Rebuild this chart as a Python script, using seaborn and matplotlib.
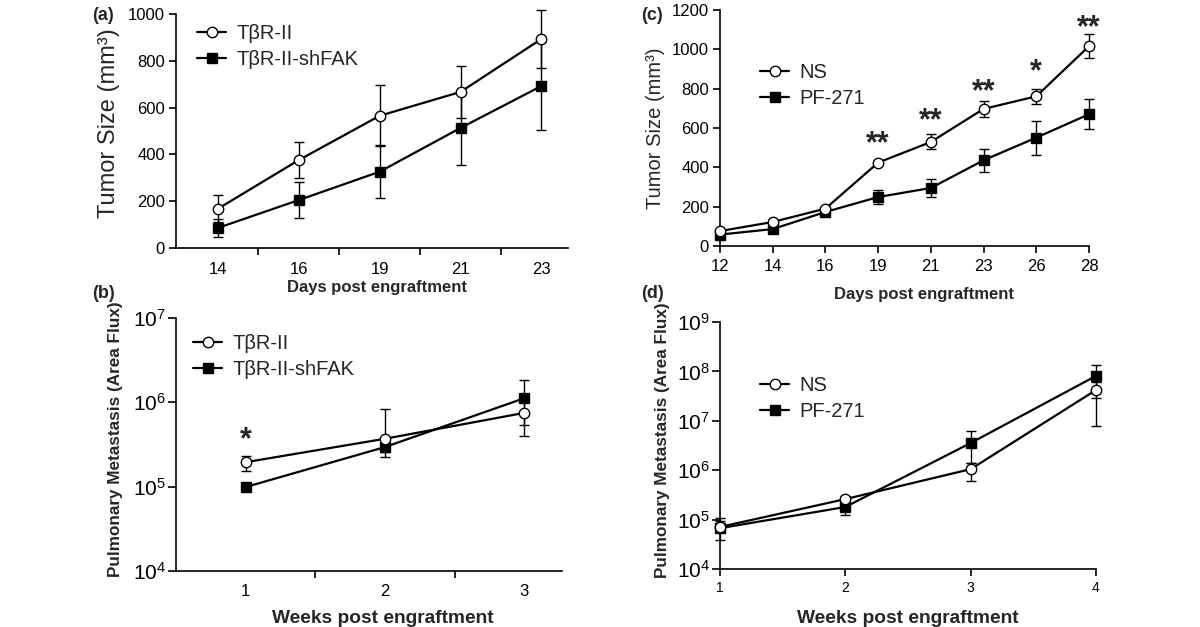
import numpy as np
import matplotlib
matplotlib.use("Agg")
import matplotlib.pyplot as plt
import seaborn as sns
from matplotlib.ticker import FixedLocator, NullLocator

# panel (a): tumor size, TbR-II vs TbR-II-shFAK
days_a = ["14", "16", "19", "21", "23"]
tbr_a = [168, 376, 565, 667, 893]
tbr_a_err = [58, 76, 131, 111, 122]
shfak_a = [86, 205, 326, 513, 692]
shfak_a_err = [39, 75, 114, 158, 188]

# panel (b): pulmonary metastasis, log scale (value, lower, upper)
weeks_b = ["1", "2", "3"]
tbr_b = [1.95e5, 3.7e5, 7.5e5]
tbr_b_lo = [1.55e5, 2.6e5, 4.0e5]
tbr_b_hi = [2.3e5, 8.3e5, 1.0e6]
shfak_b = [9.9e4, 2.95e5, 1.12e6]
shfak_b_lo = [9.0e4, 2.25e5, 5.4e5]
shfak_b_hi = [1.08e5, 3.4e5, 1.85e6]
stars_b = ["*", "", ""]
star_y_b = [3.6e5, 0, 0]

# panel (c): tumor size, NS vs PF-271
days_c = ["12", "14", "16", "19", "21", "23", "26", "28"]
ns_c = [76, 122, 190, 424, 529, 697, 761, 1016]
ns_c_err = [12, 10, 10, 12, 38, 40, 37, 60]
pf_c = [58, 86, 173, 249, 295, 436, 551, 670]
pf_c_err = [10, 10, 10, 36, 47, 58, 87, 75]
stars_c = ["", "", "", "**", "**", "**", "*", "**"]
star_y_c = [0, 0, 0, 515, 632, 784, 886, 1106]

# panel (d): pulmonary metastasis, log scale
weeks_d = [1, 2, 3, 4]
ns_d = [7.1e4, 2.6e5, 1.05e6, 4.2e7]
ns_d_lo = [5.5e4, 2.2e5, 6.0e5, 7.8e6]
ns_d_hi = [9.4e4, 3.0e5, 1.4e6, 6.0e7]
pf_d = [6.7e4, 1.8e5, 3.55e6, 8.1e7]
pf_d_lo = [3.8e4, 1.23e5, 1.4e6, 2.9e7]
pf_d_hi = [1.08e5, 2.3e5, 6.1e6, 1.35e8]

sns.set_style("ticks")
plt.rcParams['font.family'] = ['Liberation Sans', 'DejaVu Sans']
plt.rcParams['mathtext.fontset'] = 'custom'
plt.rcParams['mathtext.rm'] = 'Liberation Sans'
plt.rcParams['mathtext.it'] = 'Liberation Sans:italic'
plt.rcParams['mathtext.bf'] = 'Liberation Sans:bold'


def draw(ax, x, y, lo, hi, hollow, label):
    y = np.array(y, dtype=float)
    yerr = [y - np.array(lo), np.array(hi) - y]
    eb = ax.errorbar(x, y, yerr=yerr, fmt="none", ecolor="black",
                     elinewidth=1.0, capsize=3.5, capthick=1.0, zorder=2)
    for part in eb.lines:
        for art in (part if isinstance(part, tuple) else [part]):
            if art is not None:
                art.set_clip_on(False)
    if hollow:
        sns.lineplot(x=x, y=y, ax=ax, color="black", lw=1.6, marker="o",
                     markersize=7.5, mfc="white", mec="black", mew=1.0,
                     label=label, zorder=4, clip_on=False)
    else:
        sns.lineplot(x=x, y=y, ax=ax, color="black", lw=1.6, marker="s",
                     markersize=7.5, mfc="black", mec="black", mew=1.0,
                     label=label, zorder=3, clip_on=False)


def style(ax):
    sns.despine(ax=ax)
    for s in ["left", "bottom"]:
        ax.spines[s].set_linewidth(1.2)
        ax.spines[s].set_color("black")
    ax.tick_params(which="both", width=1.2, color="black", labelcolor="black")


def legend(ax, x, y, fs):
    h, l = ax.get_legend_handles_labels()
    ax.legend(h[::-1], l[::-1], loc="upper left",
              bbox_to_anchor=(x / 1200, 1 - y / 627),
              bbox_transform=ax.figure.transFigure, frameon=False,
              fontsize=fs, handlelength=1.45, handletextpad=0.5,
              labelspacing=0.35, borderpad=0, borderaxespad=0)


fig = plt.figure(figsize=(12, 6.27), dpi=100)

# (a)
ax = fig.add_axes([176 / 1200, 1 - 248 / 627, 392 / 1200, 234 / 627])
xa = np.arange(len(days_a))
draw(ax, xa, shfak_a, np.subtract(shfak_a, shfak_a_err), np.add(shfak_a, shfak_a_err), False, "TβR-II-shFAK")
draw(ax, xa, tbr_a, np.subtract(tbr_a, tbr_a_err), np.add(tbr_a, tbr_a_err), True, "TβR-II")
ax.set_xlim(-0.52, 4.33)
ax.set_ylim(0, 1000)
ax.set_yticks(range(0, 1001, 200))
ax.set_xticks(xa)
ax.set_xticklabels(days_a)
ax.xaxis.set_minor_locator(FixedLocator(xa[:-1] + 0.5))
style(ax)
ax.tick_params(axis="x", which="major", length=0, pad=10, labelsize=12)
ax.tick_params(axis="x", which="minor", length=5)
ax.tick_params(axis="y", length=5, pad=3, labelsize=12)
ax.set_ylabel("Tumor Size (mm³)", fontsize=17)
ax.yaxis.set_label_coords(-0.143, 0.535)
ax.set_xlabel("Days post engraftment", fontsize=12, fontweight="bold")
ax.xaxis.set_label_coords(0.513, -0.137)
legend(ax, 197, 24, 14.5)

# (b)
ax = fig.add_axes([176 / 1200, 1 - 571 / 627, 386 / 1200, 253 / 627])
xb = np.arange(len(weeks_b))
draw(ax, xb, shfak_b, shfak_b_lo, shfak_b_hi, False, "TβR-II-shFAK")
draw(ax, xb, tbr_b, tbr_b_lo, tbr_b_hi, True, "TβR-II")
ax.set_yscale("log")
ax.set_xlim(-0.5, 2.27)
ax.set_ylim(1e4, 1e7)
ax.yaxis.set_major_locator(FixedLocator([1e4, 1e5, 1e6, 1e7]))
ax.yaxis.set_minor_locator(NullLocator())
ax.set_xticks(xb)
ax.set_xticklabels(weeks_b)
ax.xaxis.set_minor_locator(FixedLocator(xb[:-1] + 0.5))
style(ax)
ax.tick_params(axis="x", which="major", length=0, pad=9, labelsize=12)
ax.tick_params(axis="x", which="minor", length=5)
ax.tick_params(axis="y", length=6, pad=1, labelsize=15)
for i, s in enumerate(stars_b):
    if s:
        ax.text(xb[i], star_y_b[i], s, ha="center", va="center", fontsize=22, fontweight="bold")
ax.set_ylabel("Pulmonary Metastasis (Area Flux)", fontsize=12.3, fontweight="bold")
ax.yaxis.set_label_coords(-0.137, 0.52)
ax.set_xlabel("Weeks post engraftment", fontsize=13.8, fontweight="bold")
ax.xaxis.set_label_coords(0.536, -0.154)
legend(ax, 193, 334, 14.5)

# (c)
ax = fig.add_axes([720 / 1200, 1 - 246 / 627, 369 / 1200, 236 / 627])
xc = np.arange(len(days_c))
draw(ax, xc, pf_c, np.subtract(pf_c, pf_c_err), np.add(pf_c, pf_c_err), False, "PF-271")
draw(ax, xc, ns_c, np.subtract(ns_c, ns_c_err), np.add(ns_c, ns_c_err), True, "NS")
ax.set_xlim(0, 7)
ax.set_ylim(0, 1200)
ax.set_yticks(range(0, 1201, 200))
ax.set_xticks(xc)
ax.set_xticklabels(days_c)
style(ax)
ax.tick_params(axis="x", length=5, pad=4, labelsize=12)
ax.tick_params(axis="y", length=5, pad=3, labelsize=12)
for i, s in enumerate(stars_c):
    if s:
        ax.text(xc[i], star_y_c[i], s, ha="center", va="center", fontsize=22, fontweight="bold")
ax.set_ylabel("Tumor Size (mm³)", fontsize=14.5)
ax.yaxis.set_label_coords(-0.149, 0.5)
ax.set_xlabel("Days post engraftment", fontsize=12, fontweight="bold")
ax.xaxis.set_label_coords(0.553, -0.174)
legend(ax, 760, 63, 14.5)

# (d)
ax = fig.add_axes([720 / 1200, 1 - 569 / 627, 376 / 1200, 247 / 627])
draw(ax, weeks_d, pf_d, pf_d_lo, pf_d_hi, False, "PF-271")
draw(ax, weeks_d, ns_d, ns_d_lo, ns_d_hi, True, "NS")
ax.set_yscale("log")
ax.set_xlim(1, 4)
ax.set_ylim(1e4, 1e9)
ax.yaxis.set_major_locator(FixedLocator([1e4, 1e5, 1e6, 1e7, 1e8, 1e9]))
ax.yaxis.set_minor_locator(NullLocator())
ax.set_xticks(weeks_d)
style(ax)
ax.tick_params(axis="x", length=5, pad=4, labelsize=10)
ax.tick_params(axis="y", length=6, pad=1, labelsize=15)
ax.set_ylabel("Pulmonary Metastasis (Area Flux)", fontsize=12.3, fontweight="bold")
ax.yaxis.set_label_coords(-0.133, 0.52)
ax.set_xlabel("Weeks post engraftment", fontsize=13.8, fontweight="bold")
ax.xaxis.set_label_coords(0.5, -0.166)
legend(ax, 760, 376, 14.5)

fig.text(92 / 1200, 1 - 15 / 627, "(a)", fontsize=13, fontweight="bold", va="center")
fig.text(92 / 1200, 1 - 293 / 627, "(b)", fontsize=13, fontweight="bold", va="center")
fig.text(641 / 1200, 1 - 15 / 627, "(c)", fontsize=13, fontweight="bold", va="center")
fig.text(641 / 1200, 1 - 293 / 627, "(d)", fontsize=13, fontweight="bold", va="center")

fig.savefig("out.png", dpi=100)
